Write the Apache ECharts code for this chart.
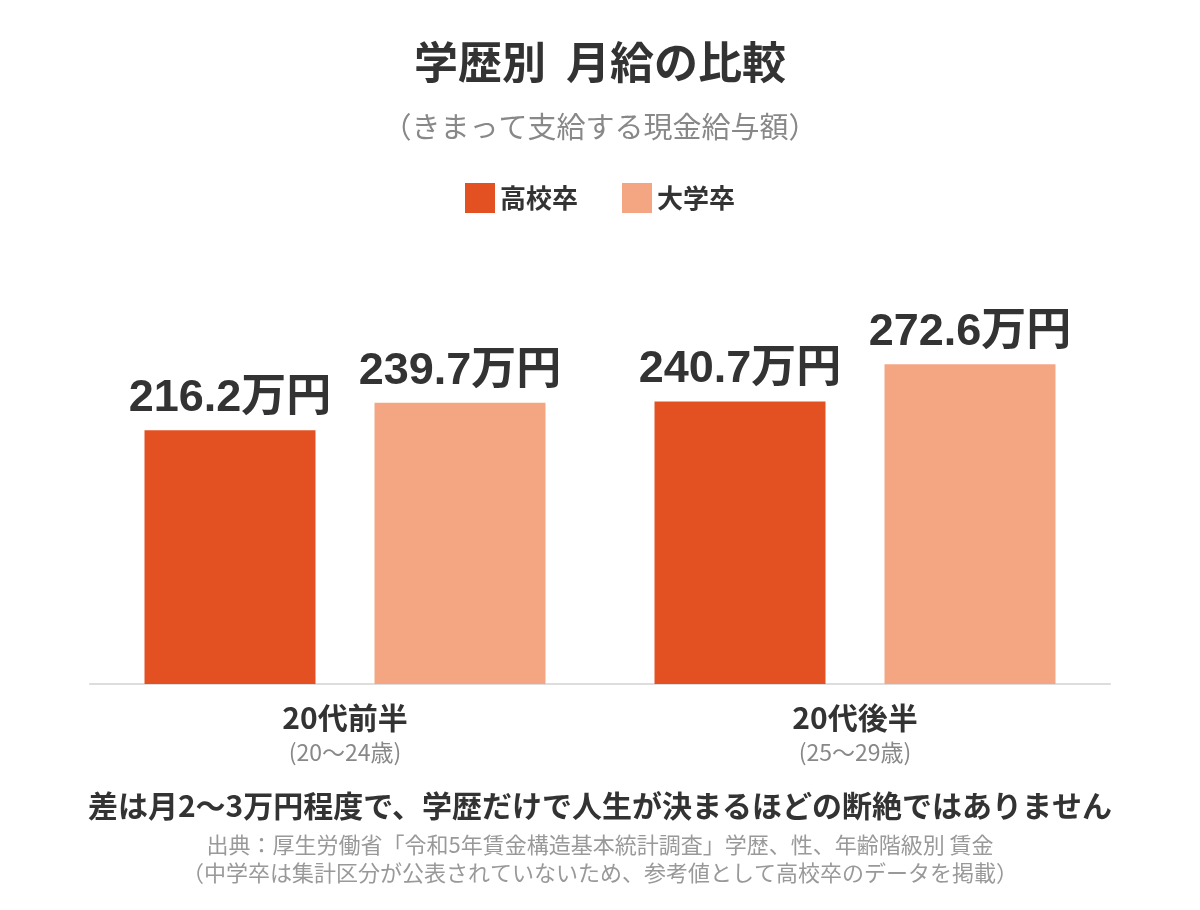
<!DOCTYPE html>
<html style="height: 100%">
<head>
    <meta charset="utf-8">
</head>
<body style="margin:0;height:100%">
<div id="container" style="width:1200px;height:910px;"></div>
<script type="text/javascript" src="https://cdn.jsdelivr.net/npm/echarts@6/dist/echarts.min.js"></script>
<script type="text/javascript">
    // カテゴリ
    var categories = ['20代前半', '20代後半'];
    var ageRanges = ['(20〜24歳)', '(25〜29歳)'];
    // 高校卒
    var highSchool = [216.2, 240.7];
    // 大学卒
    var university = [239.7, 272.6];

    var font = '"Noto Sans CJK JP", "Noto Sans", sans-serif';
    var numFont = '"Liberation Sans", "Noto Sans CJK JP", sans-serif';

    var myChart = echarts.init(document.getElementById('container'));
    var option = {
        backgroundColor: '#fff',
        textStyle: { fontFamily: font },
        title: [
            {
                text: '学歴別  月給の比較',
                left: 'center', top: 35,
                textStyle: { fontSize: 44, fontWeight: 'bold', color: '#333', fontFamily: font }
            },
            {
                text: '（きまって支給する現金給与額）',
                left: 'center', top: 107,
                textStyle: { fontSize: 29, fontWeight: 'normal', color: '#888', fontFamily: font }
            },
            {
                text: '差は月2〜3万円程度で、学歴だけで人生が決まるほどの断絶ではありません',
                left: 'center', top: 786,
                textStyle: { fontSize: 30, fontWeight: 'bold', color: '#333', fontFamily: font }
            },
            {
                text: '出典：厚生労働省「令和5年賃金構造基本統計調査」学歴、性、年齢階級別 賃金',
                left: 'center', top: 829,
                textStyle: { fontSize: 22, fontWeight: 'normal', color: '#999', fontFamily: font }
            },
            {
                text: '（中学卒は集計区分が公表されていないため、参考値として高校卒のデータを掲載）',
                left: 'center', top: 857,
                textStyle: { fontSize: 22, fontWeight: 'normal', color: '#999', fontFamily: font }
            }
        ],
        legend: {
            data: ['高校卒', '大学卒'],
            top: 178,
            left: 'center',
            icon: 'rect',
            itemWidth: 30,
            itemHeight: 30,
            itemGap: 44,
            textStyle: { fontSize: 26, fontWeight: 'bold', color: '#333', fontFamily: font }
        },
        grid: {
            left: 90,
            right: 90,
            top: 332,
            bottom: 226
        },
        xAxis: {
            type: 'category',
            data: categories,
            axisLine: { lineStyle: { color: '#ddd', width: 2 } },
            axisTick: { show: false },
            axisLabel: {
                margin: 15,
                formatter: function (v, i) {
                    return '{a|' + v + '}\n{b|' + ageRanges[i] + '}';
                },
                rich: {
                    a: { fontSize: 30, fontWeight: 'bold', color: '#333', lineHeight: 38, fontFamily: font },
                    b: { fontSize: 23, color: '#888', lineHeight: 30, fontFamily: font }
                }
            }
        },
        yAxis: {
            type: 'value',
            min: 0,
            max: 300,
            show: false,
            splitLine: { show: false }
        },
        series: [
            {
                name: '高校卒',
                type: 'bar',
                data: highSchool,
                barWidth: 171,
                barGap: '34.5%',
                itemStyle: { color: '#E35122' },
                label: {
                    show: true,
                    position: 'top',
                    distance: 9,
                    formatter: '{c}万円',
                    fontSize: 45,
                    fontWeight: 'bold',
                    color: '#333',
                    fontFamily: numFont
                }
            },
            {
                name: '大学卒',
                type: 'bar',
                data: university,
                barWidth: 171,
                itemStyle: { color: '#F4A683' },
                label: {
                    show: true,
                    position: 'top',
                    distance: 9,
                    formatter: '{c}万円',
                    fontSize: 45,
                    fontWeight: 'bold',
                    color: '#333',
                    fontFamily: numFont
                }
            }
        ]
    };
    myChart.setOption(option, true);
</script>
</body>
</html>
